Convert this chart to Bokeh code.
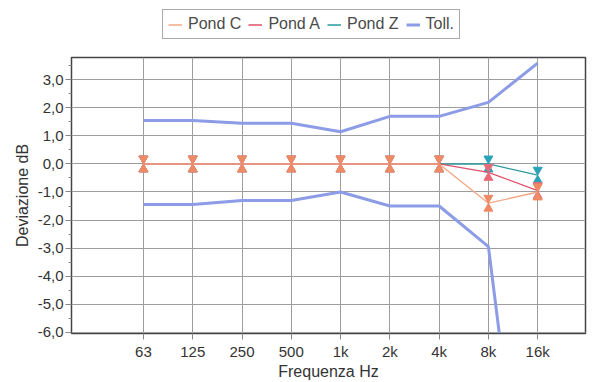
from bokeh.plotting import figure
from bokeh.layouts import column
from bokeh.models import FixedTicker, Legend, LegendItem, ColumnDataSource, Range1d
from bokeh.transform import dodge
from bokeh.embed import file_html
from bokeh.resources import INLINE

freq_labels = ["63", "125", "250", "500", "1k", "2k", "4k", "8k", "16k"]
toll_upper = [1.55, 1.55, 1.45, 1.45, 1.15, 1.7, 1.7, 2.2, 3.6]
toll_lower = [-1.45, -1.45, -1.3, -1.3, -1.0, -1.5, -1.5, -2.95, -17.0]
pond_c = [0, 0, 0, 0, 0, 0, 0, -1.4, -1.0]
pond_a = [0, 0, 0, 0, 0, 0, 0, -0.3, -0.95]
pond_z = [0, 0, 0, 0, 0, 0, 0, 0.0, -0.4]
y_ticks = [-6, -5, -4, -3, -2, -1, 0, 1, 2, 3]
y_minor = [-5.5, -4.5, -3.5, -2.5, -1.5, -0.5, 0.5, 1.5, 2.5, 3.5]
legend_labels = ["Pond C", "Pond A", "Pond Z", "Toll."]

FONT = "Liberation Sans"
xs = list(range(len(freq_labels)))

toll_col = "#8c9ce6"
series = [("z", "#2a9a9e", "#2aa3b8"), ("a", "#e0506a", "#e86a78"), ("c", "#f3a683", "#f08a64")]
line_cols = {"c": "#f3a683", "a": "#e0506a", "z": "#2a9a9e"}

src = ColumnDataSource(dict(x=xs, up=toll_upper, lo=toll_lower, c=pond_c, a=pond_a, z=pond_z))

# ---------------- main chart ----------------
p = figure(width=600, height=333, output_backend="svg", toolbar_location=None,
           x_range=Range1d(-1.46, 8.97), y_range=Range1d(-6.05, 3.8),
           min_border_left=71, min_border_right=15, min_border_top=8, min_border_bottom=49)
p.background_fill_color = "white"
p.border_fill_color = "white"
p.outline_line_color = "#444444"
p.outline_line_width = 1.5

p.xaxis.ticker = FixedTicker(ticks=xs)
p.xaxis.major_label_overrides = {i: lab for i, lab in enumerate(freq_labels)}
p.yaxis.ticker = FixedTicker(ticks=y_ticks, minor_ticks=y_minor)
p.yaxis.major_label_overrides = {t: f"{t:.1f}".replace(".", ",") for t in y_ticks}
for ax in (p.xaxis[0], p.yaxis[0]):
    ax.axis_line_color = "#444444"
    ax.major_tick_line_color = "#888888"
    ax.minor_tick_line_color = "#888888"
    ax.major_tick_in = 0
    ax.major_tick_out = 6
    ax.minor_tick_in = 0
    ax.minor_tick_out = 3
    ax.major_label_text_font = FONT
    ax.major_label_text_font_size = "15px"
    ax.major_label_text_color = "#333333"
    ax.axis_label_text_font = FONT
    ax.axis_label_text_font_size = "16px"
    ax.axis_label_text_font_style = "normal"
    ax.axis_label_text_color = "#333333"
p.xaxis.minor_tick_line_color = None
p.xaxis.axis_label = "Frequenza Hz"
p.yaxis.axis_label = "Deviazione dB"
p.xaxis.major_label_standoff = 3
p.xaxis.axis_label_standoff = 0
p.yaxis.major_label_standoff = 2
p.yaxis.axis_label_standoff = 4

p.xgrid.ticker = FixedTicker(ticks=xs)
p.ygrid.ticker = FixedTicker(ticks=y_ticks)
for g in (p.xgrid[0], p.ygrid[0]):
    g.grid_line_color = "#9d9d9d"
    g.grid_line_width = 1

p.line("x", "up", source=src, line_color=toll_col, line_width=3)
p.line("x", "lo", source=src, line_color=toll_col, line_width=3)

for key, lc, mc in series:
    p.line("x", key, source=src, line_color=lc, line_width=1.3)
    p.scatter("x", dodge(key, 0.19), source=src, marker="inverted_triangle", size=9,
              fill_color=mc, line_color=mc)
    p.scatter("x", dodge(key, -0.19), source=src, marker="triangle", size=9,
              fill_color=mc, line_color=mc)

# ---------------- legend strip (series lines kept outside its visible range) ----------------
lf = figure(width=600, height=49, output_backend="svg", toolbar_location=None,
            x_axis_type=None, y_axis_type=None, x_range=Range1d(0, 1), y_range=Range1d(10, 11),
            min_border=0)
lf.outline_line_color = None
lf.background_fill_color = "white"
lf.border_fill_color = "white"
leg_keys = ["c", "a", "z", "up"]
leg_cols = [line_cols["c"], line_cols["a"], line_cols["z"], toll_col]
leg_widths = [1.5, 1.5, 1.5, 3]
items = []
for lab, key, col, w in zip(legend_labels, leg_keys, leg_cols, leg_widths):
    r = lf.line("x", key, source=src, line_color=col, line_width=w)
    items.append(LegendItem(label=lab, renderers=[r]))

legend = Legend(items=items, orientation="horizontal", location=(91, 10))
legend.border_line_color = "#555555"
legend.border_line_width = 1
legend.background_fill_alpha = 1
legend.label_text_font = FONT
legend.label_text_font_size = "16px"
legend.label_text_color = "#4a4a4a"
legend.glyph_width = 14
legend.glyph_height = 17
legend.label_height = 17
legend.label_standoff = 6
legend.spacing = 7
legend.padding = 5
legend.margin = 0
lf.add_layout(legend)

layout = column(lf, p, spacing=0)
open("out.html", "w").write(file_html(layout, INLINE))
